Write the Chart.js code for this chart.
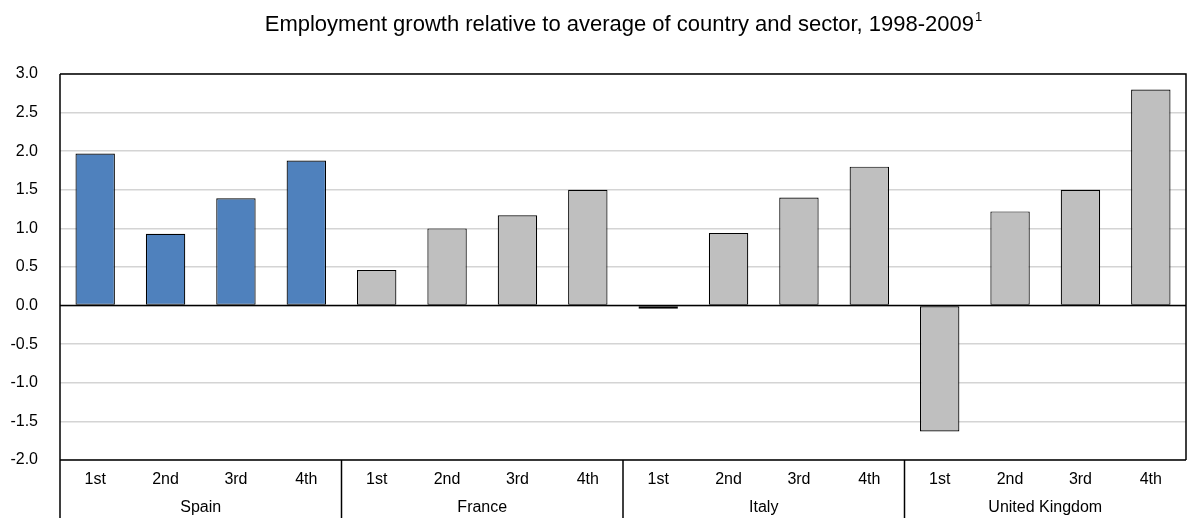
<!DOCTYPE html>
<html>
<head>
<meta charset="utf-8">
<script src="https://cdn.jsdelivr.net/npm/chart.js@4"></script>
<style>
  html, body { margin: 0; padding: 0; background: #fff; }
  #wrap { width: 1187px; height: 518px; }
</style>
</head>
<body>
<div id="wrap"><canvas id="grafik" width="1187" height="518"></canvas></div>
<script>
// Data
const quartiles = ['1st', '2nd', '3rd', '4th'];
const countries = ['Spain', 'France', 'Italy', 'United Kingdom'];
const spain = [1.97, 0.93, 1.39, 1.88];
const france = [0.46, 1.0, 1.17, 1.5];
const italy = [-0.04, 0.94, 1.40, 1.80];
const uk = [-1.63, 1.22, 1.50, 2.80];
const yTicks = [-2.0, -1.5, -1.0, -0.5, 0.0, 0.5, 1.0, 1.5, 2.0, 2.5, 3.0];
const judul = 'Employment growth relative to average of country and sector, 1998-2009';
const catatan = '1';

const labels = [];
const values = [];
const warna = [];
[spain, france, italy, uk].forEach((seri, i) => {
  seri.forEach((v, j) => {
    labels.push(quartiles[j]);
    values.push(v);
    warna.push(i === 0 ? '#4F81BD' : '#BFBFBF');
  });
});

const fontAngka = "'Liberation Sans', Arial, sans-serif";

// Plugin untuk judul, bingkai dan label negara
const hiasan = {
  id: 'hiasan',
  afterDraw(chart) {
    const c = chart.ctx;
    const area = chart.chartArea;
    const x = chart.scales.x;
    const y = chart.scales.y;
    c.save();

    // bingkai plot
    c.strokeStyle = '#000';
    c.lineWidth = 1.5;
    c.beginPath();
    c.moveTo(area.left, area.top);
    c.lineTo(area.right, area.top);
    c.lineTo(area.right, area.bottom);
    c.stroke();

    // garis nol
    const y0 = y.getPixelForValue(0);
    c.beginPath();
    c.moveTo(area.left, y0);
    c.lineTo(area.right, y0);
    c.stroke();

    // garis kiri turun sampai bawah + sumbu bawah
    c.beginPath();
    c.moveTo(area.left, area.top);
    c.lineTo(area.left, chart.height);
    c.moveTo(area.left, area.bottom);
    c.lineTo(area.right, area.bottom);
    c.stroke();

    // pemisah negara dan nama negara
    const n = quartiles.length;
    const lebarKat = x.getPixelForValue(1) - x.getPixelForValue(0);
    c.fillStyle = '#000';
    c.font = '16px ' + fontAngka;
    c.textAlign = 'center';
    c.textBaseline = 'middle';
    countries.forEach((nama, i) => {
      const a = x.getPixelForValue(i * n) - lebarKat / 2;
      const b = x.getPixelForValue(i * n + n - 1) + lebarKat / 2;
      if (i > 0) {
        c.beginPath();
        c.moveTo(a, area.bottom);
        c.lineTo(a, chart.height);
        c.stroke();
      }
      c.fillText(nama, (a + b) / 2, area.bottom + 48);
    });

    // judul
    const fJudul = "22px 'Liberation Sans', Arial, sans-serif";
    const fSup = "13px 'Liberation Sans', Arial, sans-serif";
    c.font = fJudul;
    const lebar = c.measureText(judul).width;
    c.font = fSup;
    const lebarSup = c.measureText(catatan).width;
    const tx = (area.left + area.right) / 2 - (lebar + lebarSup) / 2;
    c.textAlign = 'left';
    c.textBaseline = 'alphabetic';
    c.font = fJudul;
    c.fillText(judul, tx, 31);
    c.font = fSup;
    c.fillText(catatan, tx + lebar + 1, 21);
    c.restore();
  }
};

const ctx = document.getElementById('grafik').getContext('2d');
const grafik = new Chart(ctx, {
  type: 'bar',
  data: {
    labels: labels,
    datasets: [{
      data: values,
      backgroundColor: warna,
      borderColor: '#000',
      borderWidth: 1.2,
      borderSkipped: false,
      barPercentage: 0.56,
      categoryPercentage: 1.0
    }]
  },
  options: {
    responsive: false,
    animation: false,
    layout: { padding: { top: 74, right: 1, left: 0, bottom: 0 } },
    plugins: {
      legend: { display: false },
      title: { display: false },
      tooltip: { enabled: false }
    },
    scales: {
      x: {
        grid: { display: false, drawTicks: false },
        border: { display: false },
        ticks: {
          color: '#000',
          font: { size: 16, family: fontAngka },
          padding: 10,
          maxRotation: 0,
          autoSkip: false
        },
        afterFit(scale) { scale.height = 58; }
      },
      y: {
        min: -2,
        max: 3,
        grid: { color: '#d4d4d4', lineWidth: 1.5, drawTicks: false },
        border: { display: false },
        afterBuildTicks(scale) { scale.ticks = yTicks.map(v => ({ value: v })); },
        afterFit(scale) { scale.width = 60; },
        ticks: {
          color: '#000',
          padding: 22,
          font: { size: 16, family: fontAngka },
          callback: v => v.toFixed(1)
        }
      }
    }
  },
  plugins: [hiasan]
});
</script>
</body>
</html>
